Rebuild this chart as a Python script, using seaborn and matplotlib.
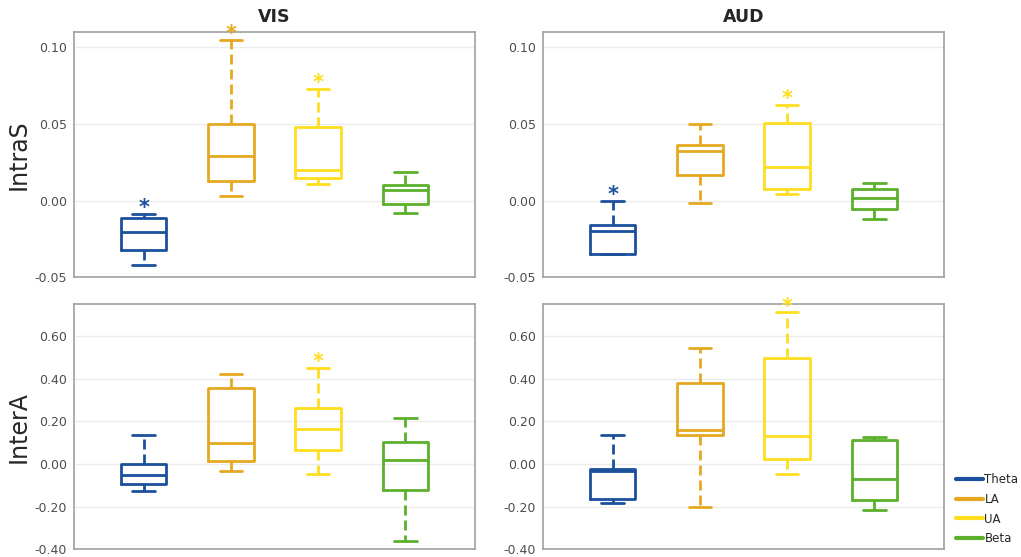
import seaborn as sns
import matplotlib.pyplot as plt
import pandas as pd
from matplotlib.lines import Line2D

bands = ['Theta', 'LA', 'UA', 'Beta']
colors = ['#1c4f9c', '#e6a820', '#ffdd1f', '#5cb02c']
conditions = ['VIS', 'AUD']
measures = ['IntraS', 'InterA']

# five-number summaries per band: [low whisker, q1, median, q3, high whisker]
vis_intras = [[-0.0419, -0.0319, -0.0203, -0.0116, -0.0085],
              [0.0033, 0.0131, 0.0293, 0.0500, 0.1048],
              [0.0109, 0.0148, 0.0197, 0.0480, 0.0727],
              [-0.0083, -0.0020, 0.0070, 0.0105, 0.0188]]
aud_intras = [[-0.0349, -0.0349, -0.0197, -0.0162, -0.0004],
              [-0.0015, 0.0170, 0.0323, 0.0365, 0.0502],
              [0.0041, 0.0076, 0.0221, 0.0509, 0.0627],
              [-0.0118, -0.0055, 0.0017, 0.0076, 0.0116]]
vis_intera = [[-0.128, -0.092, -0.052, -0.002, 0.134],
              [-0.032, 0.015, 0.098, 0.357, 0.423],
              [-0.048, 0.066, 0.162, 0.263, 0.452],
              [-0.362, -0.120, 0.017, 0.105, 0.218]]
aud_intera = [[-0.185, -0.163, -0.035, -0.025, 0.134],
              [-0.202, 0.137, 0.161, 0.380, 0.542],
              [-0.046, 0.023, 0.129, 0.495, 0.711],
              [-0.215, -0.171, -0.069, 0.114, 0.126]]

# which bands carry a significance star
stars_vis_intras = [True, True, True, False]
stars_aud_intras = [True, False, True, False]
stars_vis_intera = [False, False, True, False]
stars_aud_intera = [False, False, True, False]

panels = [[(vis_intras, stars_vis_intras), (aud_intras, stars_aud_intras)],
          [(vis_intera, stars_vis_intera), (aud_intera, stars_aud_intera)]]
ylims = [(-0.05, 0.11), (-0.40, 0.75)]
yticks = [[-0.05, 0.0, 0.05, 0.10], [-0.40, -0.20, 0.0, 0.20, 0.40, 0.60]]

sns.set_style('white')
plt.rcParams['font.family'] = ['DejaVu Sans']

fig, axes = plt.subplots(2, 2, figsize=(10.21, 5.57), dpi=100)
fig.subplots_adjust(left=0.0725, right=0.9246, top=0.9425, bottom=0.0138,
                    wspace=0.17, hspace=0.109)

for r in range(2):
    for c in range(2):
        ax = axes[r, c]
        summ, stars = panels[r][c]
        df = pd.DataFrame({
            'band': [b for b, s in zip(bands, summ) for _ in s],
            'value': [v for s in summ for v in s],
        })
        sns.boxplot(data=df, x='band', y='value', hue='band', order=bands,
                    hue_order=bands, palette=colors, fill=False, whis=(0, 100),
                    width=0.52, linewidth=2, legend=False, dodge=False, ax=ax,
                    whiskerprops={'linestyle': (0, (3.6, 1.8))})
        ax.set_ylim(*ylims[r])
        ax.set_xlim(-0.8, 3.8)
        ax.set_yticks(yticks[r])
        ax.set_yticklabels(['{:.2f}'.format(t) for t in yticks[r]],
                           fontsize=9, color='#4d4d4d')
        ax.set_xticks([])
        ax.set_xlabel('')
        ax.set_ylabel('')
        ax.grid(axis='y', color='#ececec', linewidth=1)
        ax.set_axisbelow(True)
        for sp in ax.spines.values():
            sp.set_color('#a0a0a0')
            sp.set_linewidth(1.2)
        ax.tick_params(axis='y', length=0, pad=5)
        # significance stars just above the upper cap
        for i, (s, st) in enumerate(zip(summ, stars)):
            if st:
                ax.annotate('*', (i, s[4]), xytext=(0, -3), textcoords='offset points',
                            ha='center', va='bottom', fontsize=15, fontweight='bold',
                            color=colors[i])
        if r == 0:
            ax.set_title(conditions[c], fontsize=12.5, fontweight='bold', pad=7)
        if c == 0:
            ax.set_ylabel(measures[r], fontsize=17, labelpad=3)

handles = [Line2D([0], [0], color=col, linewidth=3) for col in colors]
fig.legend(handles, bands, loc='center left', bbox_to_anchor=(0.926, 0.086),
           frameon=False, fontsize=8.5, handlelength=2.3, handletextpad=0.1,
           labelspacing=0.58)

plt.savefig('out.png', dpi=100)
